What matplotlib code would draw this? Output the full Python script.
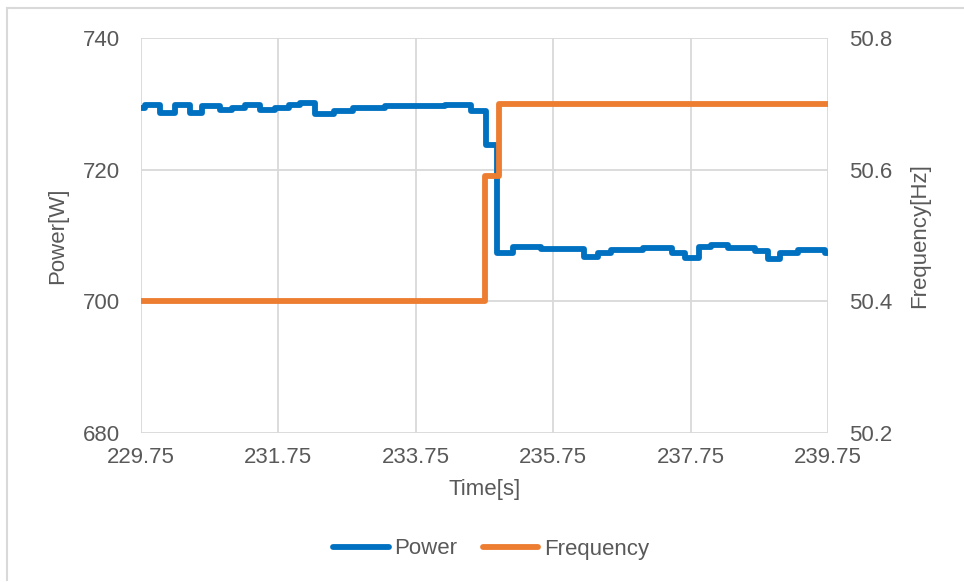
import matplotlib
matplotlib.use("Agg")
import matplotlib.pyplot as plt
from matplotlib.lines import Line2D

plt.rcParams['font.family'] = ['Liberation Sans', 'DejaVu Sans']

# ---- data ----
power_t = [229.75, 229.81, 230.03, 230.24, 230.46, 230.64, 230.90, 231.07, 231.26,
           231.48, 231.70, 231.90, 232.06, 232.28, 232.56, 232.84, 233.30, 234.17,
           234.55, 234.77, 234.93, 235.16, 235.57, 236.20, 236.40, 236.59, 237.06,
           237.48, 237.67, 237.87, 238.05, 238.29, 238.69, 238.88, 239.05, 239.31,
           239.71, 239.75]
power_w = [729.3, 729.8, 728.65, 729.8, 728.65, 729.7, 729.1, 729.4, 729.8,
           729.0, 729.3, 729.8, 730.1, 728.5, 728.9, 729.4, 729.6, 729.8,
           728.9, 723.7, 707.4, 708.3, 707.9, 706.8, 707.4, 707.8, 708.1,
           707.4, 706.6, 708.3, 708.5, 708.1, 707.6, 706.5, 707.4, 707.8,
           707.4, 707.4]
freq_t = [229.75, 234.76, 234.96, 239.75]
freq_hz = [50.4, 50.59, 50.7, 50.7]
x_ticks = [229.75, 231.75, 233.75, 235.75, 237.75, 239.75]
p_ticks = [680, 700, 720, 740]
f_ticks = [50.2, 50.4, 50.6, 50.8]

BLUE = '#0070C0'
ORANGE = '#ED7D31'
TXT = '#595959'
GRID = '#D9D9D9'
FS = 16

fig = plt.figure(figsize=(9.64, 5.82), dpi=100)
ax = fig.add_axes([141/964, 1 - 433/582, (828 - 141)/964, (433 - 38)/582])
ax2 = ax.twinx()

lp, = ax.step(power_t, power_w, where='post', color=BLUE, lw=4.2,
              solid_joinstyle='round', solid_capstyle='round', zorder=3, label='Power')
lf, = ax2.step(freq_t, freq_hz, where='post', color=ORANGE, lw=4.2,
               solid_joinstyle='round', solid_capstyle='round', zorder=3, label='Frequency')

ax.set_xlim(x_ticks[0], x_ticks[-1])
ax.set_ylim(p_ticks[0], p_ticks[-1])
ax2.set_ylim(f_ticks[0], f_ticks[-1])
ax.set_xticks(x_ticks)
ax.set_xticklabels([f'{v:.2f}' for v in x_ticks])
ax.set_yticks(p_ticks)
ax2.set_yticks(f_ticks)
ax2.set_yticklabels([f'{v:.1f}' for v in f_ticks])

ax.grid(True, color=GRID, lw=1.3, zorder=0)
ax.set_axisbelow(True)
for a in (ax, ax2):
    for s in a.spines.values():
        s.set_visible(False)
    a.tick_params(length=0, colors=TXT, labelsize=FS)
ax.tick_params(axis='y', pad=15)
ax2.tick_params(axis='y', pad=15)
ax.tick_params(axis='x', pad=10)

ax.set_xlabel('Time[s]', color=TXT, fontsize=FS, labelpad=8)
ax.set_ylabel('Power[W]', color=TXT, fontsize=FS, labelpad=11)
ax2.set_ylabel('Frequency[Hz]', color=TXT, fontsize=FS, labelpad=12, rotation=90)

leg = fig.legend(handles=[lp, lf], loc='center', bbox_to_anchor=(491/964, 1 - 549/582),
                 ncol=2, frameon=False, fontsize=FS, labelcolor=TXT,
                 handlelength=2.5, handletextpad=0.25, columnspacing=1.15)

# outer chart frame (partially visible)
fig.add_artist(Line2D([7/964, 7/964], [1 - 580/582, 1 - 8/582], transform=fig.transFigure,
                      color='#D9D9D9', lw=1.5))
fig.add_artist(Line2D([7/964, 1.0], [1 - 8/582, 1 - 8/582], transform=fig.transFigure,
                      color='#D9D9D9', lw=1.5))

fig.savefig('out.png', dpi=100)
